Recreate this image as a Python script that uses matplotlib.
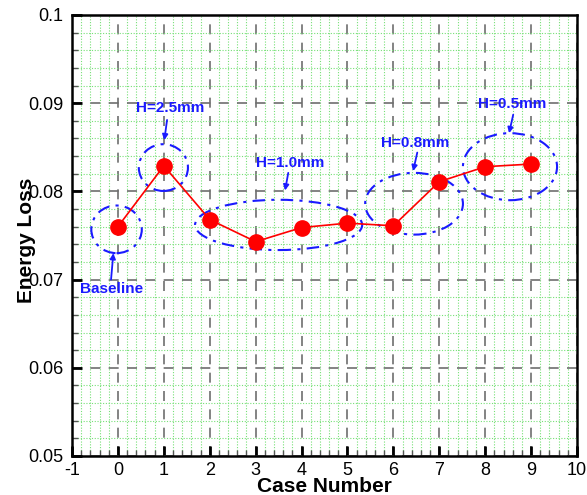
import matplotlib.pyplot as plt
from matplotlib.patches import Ellipse
from matplotlib.ticker import MultipleLocator, FixedLocator, FixedFormatter

plt.rcParams['font.family'] = ['Liberation Sans', 'DejaVu Sans']
plt.rcParams['axes.unicode_minus'] = False

# energy loss per case
case_no = [0, 1, 2, 3, 4, 5, 6, 7, 8, 9]
energy_loss = [0.0760, 0.0829, 0.0768, 0.0743, 0.0759, 0.0764, 0.0761, 0.0811, 0.0828, 0.0831]

x_ticks = [-1, 0, 1, 2, 3, 4, 5, 6, 7, 8, 9, 10]
y_ticks = [0.05, 0.06, 0.07, 0.08, 0.09, 0.1]
y_tick_labels = ["0.05", "0.06", "0.07", "0.08", "0.09", "0.1"]

# groups: label, ellipse centre/size, text position, arrow start -> end
group_names = ["Baseline", "H=2.5mm", "H=1.0mm", "H=0.8mm", "H=0.5mm"]
group_centres = [(-0.03, 0.0757), (0.99, 0.0827), (3.5, 0.0762), (6.45, 0.0786), (8.54, 0.0828)]
group_sizes = [(1.1, 0.0054), (1.07, 0.0053), (3.64, 0.0057), (2.13, 0.0070), (2.05, 0.0076)]
text_pos = [(-0.13, 0.0689), (1.14, 0.0895), (3.75, 0.0832), (6.47, 0.0855), (8.59, 0.0899)]
arrow_from = [(-0.15, 0.0700), (1.07, 0.0881), (3.71, 0.0821), (6.52, 0.0844), (8.61, 0.0887)]
arrow_to = [(-0.10, 0.0730), (1.01, 0.0858), (3.64, 0.0801), (6.43, 0.0823), (8.52, 0.0866)]

fig = plt.figure(figsize=(5.87, 4.95), dpi=100)
ax = fig.add_axes([0.1227, 0.0788, 0.8603, 0.8909])

ax.set_xlim(-1, 10)
ax.set_ylim(0.05, 0.1)
ax.xaxis.set_major_locator(FixedLocator(x_ticks))
ax.yaxis.set_major_locator(FixedLocator(y_ticks))
ax.yaxis.set_major_formatter(FixedFormatter(y_tick_labels))
ax.xaxis.set_minor_locator(MultipleLocator(0.2))
ax.yaxis.set_minor_locator(MultipleLocator(0.002))

# fine green grid + dashed grey major grid
ax.grid(which='minor', color='#77e077', linestyle=(0, (1, 1.5)), linewidth=0.8)
ax.grid(which='major', color='#6e6e6e', linestyle=(0, (6, 5)), linewidth=1.2)
ax.set_axisbelow(True)

ax.tick_params(which='major', direction='in', length=7, width=2, color='black',
               labelsize=13, top=False, right=False)
ax.tick_params(which='minor', direction='in', length=4, width=1, color='#555555',
               top=False, right=False)
ax.tick_params(axis='x', which='major', pad=4)
ax.tick_params(axis='y', which='major', pad=6)
for s in ax.spines.values():
    s.set_linewidth(1.8)

ax.plot(case_no, energy_loss, color='red', linewidth=1.2, marker='o',
        markersize=11, markerfacecolor='red', markeredgecolor='red', zorder=4)

for name, c, sz, tp, a0, a1 in zip(group_names, group_centres, group_sizes,
                                   text_pos, arrow_from, arrow_to):
    ax.add_patch(Ellipse(c, sz[0], sz[1], fill=False, edgecolor='#1a1aff',
                         linewidth=1.5, linestyle=(0, (6, 3, 1.5, 3)), zorder=3))
    ax.text(tp[0], tp[1], name, color='#1a1aff', fontsize=11, fontweight='bold',
            ha='center', va='center', zorder=5)
    ax.annotate('', xy=a1, xytext=a0,
                arrowprops=dict(arrowstyle='-|>', color='#1a1aff', lw=1.3,
                                mutation_scale=8, shrinkA=0, shrinkB=0), zorder=5)

ax.set_xlabel('Case Number', fontsize=15, fontweight='bold', labelpad=-1)
ax.set_ylabel('Energy Loss', fontsize=15, fontweight='bold')
ax.yaxis.set_label_coords(-0.072, 0.49)

fig.savefig('out.png', dpi=100)
